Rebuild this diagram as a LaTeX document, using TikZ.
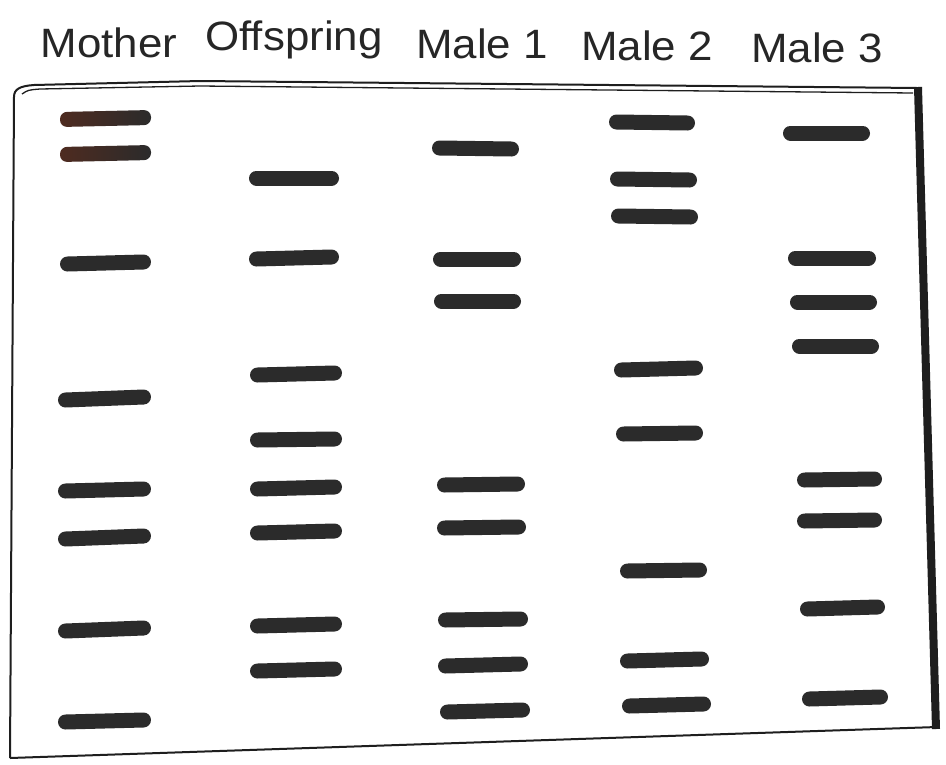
\documentclass[tikz,border=0pt]{standalone}
\usepackage{fontspec}
\setmainfont{Liberation Sans}
\definecolor{bandc}{HTML}{2B2B2B}
\definecolor{mbrown}{HTML}{4E2B20}
\definecolor{edgec}{HTML}{1E1E1E}
\begin{document}
\begin{tikzpicture}[x=1pt,y=-1pt,
  band/.style={line width=15pt,line cap=round,draw=bandc},
  lbl/.style={font=\fontsize{41}{43}\selectfont,anchor=base,xscale=1.07,inner sep=0pt,text=black!85},
  edge/.style={draw=edgec,line width=2pt,line join=round}]
\useasboundingbox[fill=white] (0,0) rectangle (946,764);
% labels
\node[lbl] (mother) at (109,57) {Mother};
\node[lbl] (offspring) at (294,50) {Offspring};
\node[lbl] (male1) at (482,58) {Male 1};
\node[lbl] (male2) at (647,60) {Male 2};
\node[lbl] (male3) at (817,62) {Male 3};
% gel frame
\draw[edge] (10,758) -- (14,97) .. controls (14,89) and (20,86) .. (34,85) -- (200,81) -- (917,88);
\draw[draw=edgec,line width=1.3pt] (22,94) .. controls (28,90) .. (40,89) -- (200,86) -- (913,93);
\draw[edge] (10,758) -- (937,727);
\draw[draw=edgec,line width=8pt] (918,87) -- (936,729);
% mother lane
\shade[left color=mbrown,right color=bandc,rounded corners=7pt] (60,112) -- (151,110) -- (151,125) -- (60,127) -- cycle;
\shade[left color=mbrown,right color=bandc,rounded corners=7pt] (60,147) -- (151,145) -- (151,160) -- (60,162) -- cycle;
\foreach \xa/\xb/\ya/\yb in {60/151/264/262, 58/151/400/397, 58/151/491/489, 58/151/539/536, 58/151/631/628, 58/151/722/720}
  \draw[band] (\xa+7.5,\ya) -- (\xb-7.5,\yb);
% offspring lane
\foreach \xa/\xb/\ya/\yb in {249/339/178/178, 249/339/259/257, 250/342/375/373, 250/342/440/439, 250/342/489/487, 250/342/533/531, 250/342/626/624, 250/342/671/669}
  \draw[band] (\xa+7.5,\ya) -- (\xb-7.5,\yb);
% male 1 lane
\foreach \xa/\xb/\ya/\yb in {432/519/148/149, 433/521/259/259, 434/521/301/301, 437/525/485/484, 437/526/528/527, 438/528/620/619, 438/528/666/664, 440/530/712/710}
  \draw[band] (\xa+7.5,\ya) -- (\xb-7.5,\yb);
% male 2 lane
\foreach \xa/\xb/\ya/\yb in {609/695/122/123, 610/697/179/180, 611/698/216/217, 614/703/370/368, 616/703/434/433, 620/707/571/570, 620/709/661/659, 622/711/706/704}
  \draw[band] (\xa+7.5,\ya) -- (\xb-7.5,\yb);
% male 3 lane
\foreach \xa/\xb/\ya/\yb in {783/870/133/133, 788/876/258/258, 790/877/302/302, 792/879/346/346, 797/882/480/479, 797/882/521/520, 800/885/609/607, 802/888/699/697}
  \draw[band] (\xa+7.5,\ya) -- (\xb-7.5,\yb);
\end{tikzpicture}
\end{document}
